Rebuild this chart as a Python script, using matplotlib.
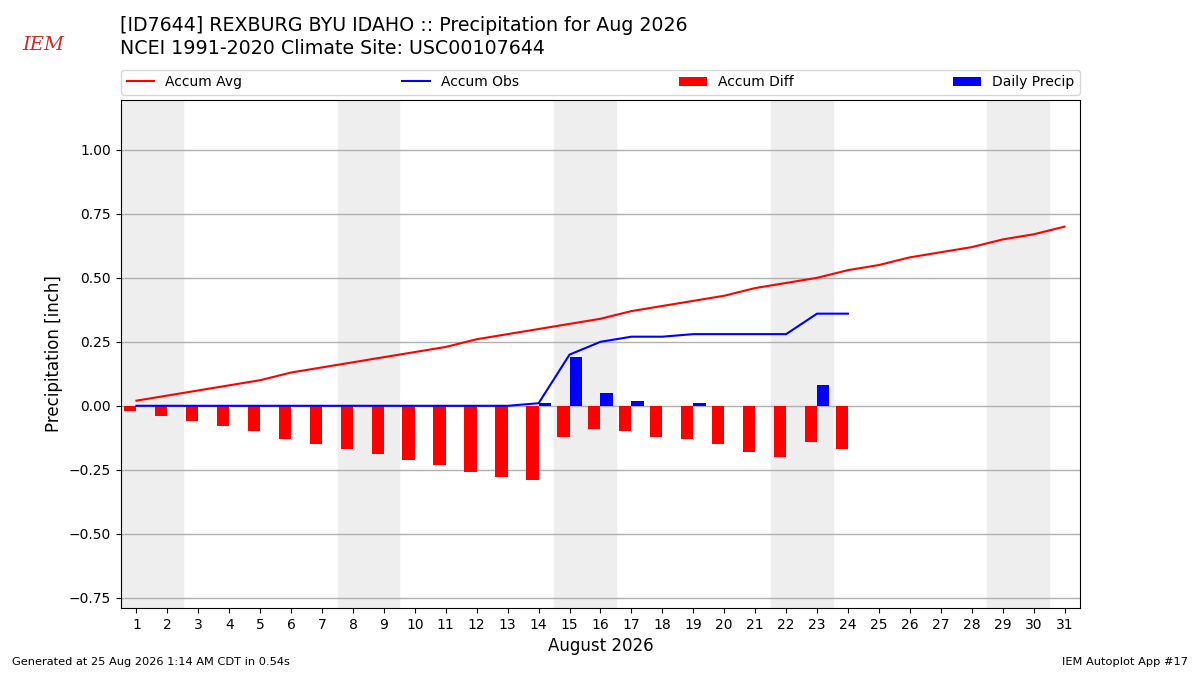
import numpy as np
import matplotlib
matplotlib.use("Agg")
import matplotlib.pyplot as plt

days = list(range(1, 32))
accum_avg = [0.02, 0.04, 0.06, 0.08, 0.10, 0.13, 0.15, 0.17, 0.19, 0.21,
             0.23, 0.26, 0.28, 0.30, 0.32, 0.34, 0.37, 0.39, 0.41, 0.43,
             0.46, 0.48, 0.50, 0.53, 0.55, 0.58, 0.60, 0.62, 0.65, 0.67, 0.70]
obs_days = list(range(1, 25))
daily_precip = [0, 0, 0, 0, 0, 0, 0, 0, 0, 0, 0, 0, 0, 0.01, 0.19, 0.05,
                0.02, 0, 0.01, 0, 0, 0, 0.08, 0]
accum_obs = [0, 0, 0, 0, 0, 0, 0, 0, 0, 0, 0, 0, 0, 0.01, 0.20, 0.25,
             0.27, 0.27, 0.28, 0.28, 0.28, 0.28, 0.36, 0.36]
accum_diff = [-0.02, -0.04, -0.06, -0.08, -0.10, -0.13, -0.15, -0.17, -0.19,
              -0.21, -0.23, -0.26, -0.28, -0.29, -0.12, -0.09, -0.10, -0.12,
              -0.13, -0.15, -0.18, -0.20, -0.14, -0.17]
weekends = [(1, 2), (8, 9), (15, 16), (22, 23), (29, 30)]

fig = plt.figure(figsize=(12, 6.75), dpi=100)
ax = fig.add_axes([0.1008, 0.0993, 0.7992, 0.7526])

for a, b in weekends:
    ax.axvspan(a - 0.5, b + 0.5, color="#eeeeee", zorder=0)

ax.plot(days, accum_avg, color="r", lw=1.5, label="Accum Avg", zorder=3)
ax.plot(obs_days, accum_obs, color="b", lw=1.5, label="Accum Obs", zorder=3)
ax.bar(obs_days, accum_diff, width=-0.4, align="edge", color="r",
       label="Accum Diff", zorder=2)
ax.bar(obs_days, daily_precip, width=0.4, align="edge", color="b",
       label="Daily Precip", zorder=2)

ax.set_xlim(0.5, 31.5)
ax.set_ylim(-0.79, 1.195)
ax.set_xticks(days)
ax.set_yticks(np.arange(-0.75, 1.01, 0.25))
ax.yaxis.grid(True, color="#b0b0b0", lw=1)
ax.set_axisbelow(True)
ax.set_xlabel("August 2026", fontsize=12)
ax.set_ylabel("Precipitation [inch]", fontsize=12)
ax.legend(loc="lower left", bbox_to_anchor=(0, 1.01, 1, 0.05), ncol=4,
          mode="expand", borderaxespad=0, fontsize=10)

fig.text(0.1, 0.962, "[ID7644] REXBURG BYU IDAHO :: Precipitation for Aug 2026",
         fontsize=13.7, va="center")
fig.text(0.1, 0.928, "NCEI 1991-2020 Climate Site: USC00107644",
         fontsize=13.7, va="center")
fig.text(0.036, 0.933, "IEM", color="#d42a2a", fontsize=14, style="italic",
         family="serif", va="center", ha="center")
fig.text(0.01, 0.015, "Generated at 25 Aug 2026 1:14 AM CDT in 0.54s",
         fontsize=8.2)
fig.text(0.99, 0.015, "IEM Autoplot App #17", fontsize=8.2, ha="right")

fig.savefig("out.png", dpi=100)
